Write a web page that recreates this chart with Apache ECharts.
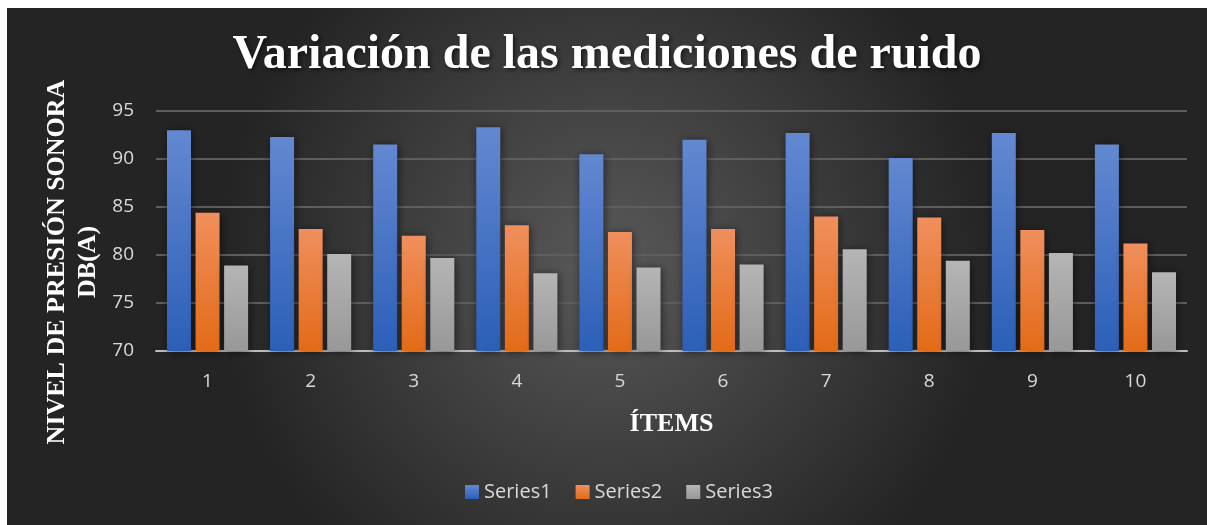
<!DOCTYPE html>
<html>
<head>
<meta charset="utf-8">
<script src="https://cdn.jsdelivr.net/npm/echarts@6/dist/echarts.min.js"></script>
<style>
  html, body { margin: 0; padding: 0; background: #fff; }
  #chart { position: absolute; left: 7px; top: 8px; width: 1200px; height: 517px; }
</style>
</head>
<body>
<div id="chart"></div>
<script>
const items = ['1', '2', '3', '4', '5', '6', '7', '8', '9', '10']
const series1 = [93.0, 92.3, 91.5, 93.3, 90.5, 92.0, 92.7, 90.1, 92.7, 91.5]
const series2 = [84.4, 82.7, 82.0, 83.1, 82.4, 82.7, 84.0, 83.9, 82.6, 81.2]
const series3 = [78.9, 80.1, 79.7, 78.1, 78.7, 79.0, 80.6, 79.4, 80.2, 78.2]
const seriesNames = ['Series1', 'Series2', 'Series3']
const yMin = 70
const yMax = 95
const yStep = 5

function vgrad (top, bottom) {
  return new echarts.graphic.LinearGradient(0, 0, 0, 1, [
    { offset: 0, color: top },
    { offset: 1, color: bottom }
  ])
}

const colors = [
  vgrad('#6388d1', '#2c5fb8'),
  vgrad('#f08f5d', '#e36b17'),
  vgrad('#b5b5b5', '#989898')
]
const legendColors = ['#3c6cc6', '#f07a2a', '#a8a8a8']

function barSeries (name, data, i) {
  return {
    name: name,
    type: 'bar',
    data: data,
    barWidth: 24,
    barGap: '19%',
    itemStyle: {
      color: colors[i],
      shadowColor: 'rgba(0, 0, 0, 0.55)',
      shadowBlur: 8,
      shadowOffsetX: 1,
      shadowOffsetY: 1
    }
  }
}

const chart = echarts.init(document.getElementById('chart'))
chart.setOption({
  backgroundColor: new echarts.graphic.RadialGradient(0.5, 0.5, 0.75, [
    { offset: 0, color: '#595959' },
    { offset: 1, color: '#242424' }
  ]),
  color: legendColors,
  title: {
    text: 'Variación de las mediciones de ruido',
    left: 'center',
    top: 19,
    textStyle: {
      fontFamily: 'Liberation Serif',
      fontWeight: 'bold',
      fontSize: 48,
      color: '#ffffff',
      textShadowColor: 'rgba(0, 0, 0, 0.6)',
      textShadowBlur: 4,
      textShadowOffsetX: 2,
      textShadowOffsetY: 2
    }
  },
  legend: {
    data: seriesNames,
    left: 453,
    top: 469,
    itemWidth: 14,
    itemHeight: 14,
    itemGap: 24,
    icon: 'rect',
    textStyle: {
      fontFamily: 'Open Sans',
      fontSize: 20,
      color: '#d9d9d9'
    }
  },
  grid: {
    left: 149,
    right: 20,
    top: 103,
    bottom: 174
  },
  xAxis: {
    type: 'category',
    data: items,
    name: 'ÍTEMS',
    nameLocation: 'middle',
    nameGap: 60,
    nameTextStyle: {
      fontFamily: 'Liberation Serif',
      fontWeight: 'bold',
      fontSize: 26,
      color: '#ffffff'
    },
    axisTick: { show: false },
    axisLine: { lineStyle: { color: '#bdbdbd', width: 2 } },
    axisLabel: {
      margin: 21,
      fontFamily: 'Open Sans',
      fontSize: 19,
      color: '#d9d9d9'
    }
  },
  yAxis: {
    type: 'value',
    min: yMin,
    max: yMax,
    interval: yStep,
    axisLine: { show: false },
    axisTick: { show: false },
    axisLabel: {
      margin: 22,
      fontFamily: 'Open Sans',
      fontSize: 19,
      color: '#d9d9d9'
    },
    splitLine: { lineStyle: { color: '#5e5e5e', width: 2 } }
  },
  graphic: [{
    type: 'text',
    x: 66,
    y: 254,
    rotation: Math.PI / 2,
    style: {
      text: 'NIVEL DE PRESIÓN SONORA\nDB(A)',
      align: 'center',
      verticalAlign: 'middle',
      lineHeight: 31,
      fill: '#ffffff',
      font: 'bold 26px "Liberation Serif"'
    }
  }],
  series: [
    barSeries(seriesNames[0], series1, 0),
    barSeries(seriesNames[1], series2, 1),
    barSeries(seriesNames[2], series3, 2)
  ]
})
</script>
</body>
</html>
